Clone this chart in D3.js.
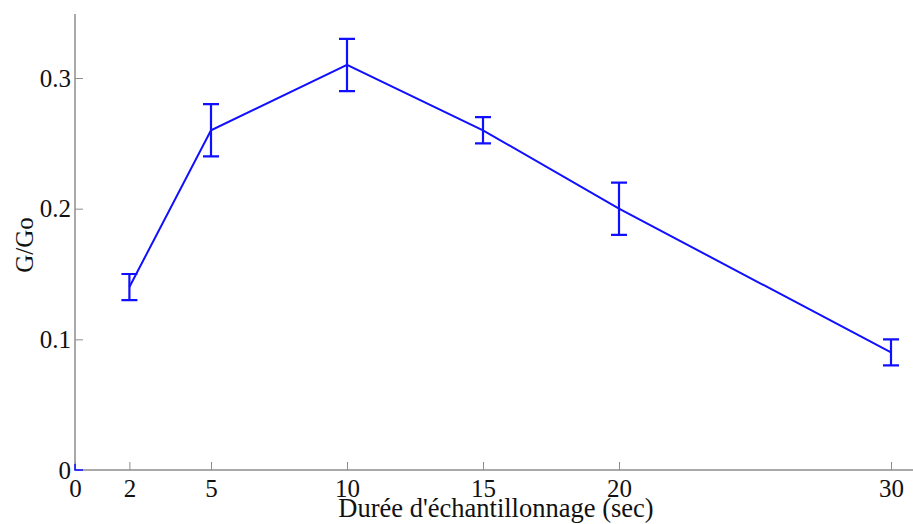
<!DOCTYPE html>
<html><head><meta charset="utf-8">
<script src="https://cdn.jsdelivr.net/npm/d3@7"></script>
<style>body{margin:0;background:#fff}svg{display:block}</style>
</head><body><svg id="c" width="913" height="524"></svg>
<script>
const durations = [2, 5, 10, 15, 20, 30];
const ratios = [0.14, 0.26, 0.31, 0.26, 0.20, 0.09];
const errors = [0.01, 0.02, 0.02, 0.01, 0.02, 0.01];
const xTicks = [0, 2, 5, 10, 15, 20, 30];
const yTicks = [0, 0.1, 0.2, 0.3];
const xLabel = "Durée d'échantillonnage (sec)";
const yLabel = "G/Go";

const FONT = "'Liberation Serif', 'Times New Roman', Times, serif";
const FS = 25;
const svg = d3.select("#c").attr("font-family", FONT);
const x = d3.scaleLinear().domain([0, 30]).range([75, 891]);
const y = d3.scaleLinear().domain([0, 0.3]).range([470, 78]);
const axisColor = "#8c8c8c";

// axes lines
svg.append("line").attr("x1", 75).attr("x2", 913).attr("y1", y(0)).attr("y2", y(0)).attr("stroke", axisColor).attr("stroke-width", 1.5);
svg.append("line").attr("x1", 75).attr("x2", 75).attr("y1", 14).attr("y2", y(0)).attr("stroke", axisColor).attr("stroke-width", 1.5);

const xa = svg.append("g").attr("transform", `translate(0,${y(0)})`)
  .call(d3.axisBottom(x).tickValues(xTicks).tickFormat(d3.format("d")).tickSize(-8).tickPadding(0));
xa.select(".domain").remove();
xa.selectAll("line").attr("stroke", axisColor);
xa.selectAll("text").attr("font-size", FS).attr("fill", "#111").attr("font-family", FONT)
  .attr("dy", null).attr("y", 27);

const ya = svg.append("g").attr("transform", `translate(75,0)`)
  .call(d3.axisLeft(y).tickValues(yTicks).tickFormat(d => d === 0 ? "0" : d3.format(".1f")(d)).tickSize(-8).tickPadding(4));
ya.select(".domain").remove();
ya.selectAll("line").attr("stroke", axisColor);
ya.selectAll("text").attr("font-size", FS).attr("fill", "#111").attr("font-family", FONT);
ya.selectAll(".tick").filter(d => d === 0).select("line").remove();

// labels
svg.append("text").attr("x", 496).attr("y", 517).attr("text-anchor", "middle")
  .attr("font-size", 26.5).attr("font-family", FONT).attr("fill", "#111").text(xLabel);
svg.append("text").attr("transform", "translate(33,245) rotate(-90)").attr("text-anchor", "middle")
  .attr("font-size", FS).attr("font-family", FONT).attr("fill", "#111").text(yLabel);

const blue = "#1010ff";
// origin mark
svg.append("path").attr("d", `M${x(0)},${y(0)-6}V${y(0)}H${x(0)+8}`).attr("fill", "none").attr("stroke", blue).attr("stroke-width", 1.5);

const pts = durations.map((d, i) => ({x: d, y: ratios[i], e: errors[i]}));
svg.append("path").datum(pts)
  .attr("d", d3.line().x(d => x(d.x)).y(d => y(d.y)))
  .attr("fill", "none").attr("stroke", blue).attr("stroke-width", 2);

const eb = svg.append("g").attr("stroke", blue).attr("stroke-width", 2.2).attr("fill", "none");
pts.forEach(p => {
  const cx = x(p.x), t = y(p.y + p.e), b = y(p.y - p.e);
  eb.append("path").attr("d", `M${cx},${t}V${b}M${cx-8},${t}H${cx+8}M${cx-8},${b}H${cx+8}`);
});
</script></body></html>
